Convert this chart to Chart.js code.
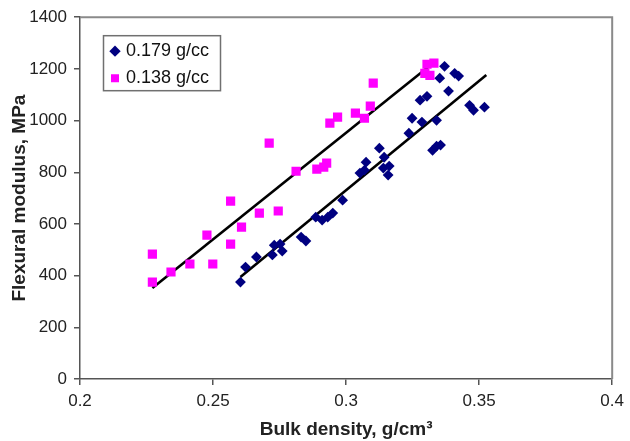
<!DOCTYPE html>
<html><head><meta charset="utf-8">
<script src="https://cdn.jsdelivr.net/npm/chart.js@4.4.1/dist/chart.umd.min.js"></script>
<style>html,body{margin:0;padding:0;background:#fff}#wrap{width:630px;height:441px}</style>
</head><body><div id="wrap"><canvas id="c" width="630" height="441"></canvas></div>
<script>
const xTicks = [0.2, 0.25, 0.3, 0.35, 0.4];
const yTicks = [0, 200, 400, 600, 800, 1000, 1200, 1400];
const seriesLabels = ['0.179 g/cc', '0.138 g/cc'];
const xTitle = 'Bulk density, g/cm\u00B3';
const yTitle = 'Flexural modulus, MPa';

const blueX = [0.2603,0.2622,0.2663,0.2723,0.2730,0.2752,0.2760,0.2831,0.2849,0.2886,0.2910,0.2931,0.2950,0.2987,0.3052,0.3069,0.3075,0.3125,0.3143,0.3140,0.3162,0.3158,0.3236,0.3248,0.3278,0.3285,0.3304,0.3340,0.3325,0.3340,0.3355,0.3352,0.3370,0.3385,0.3408,0.3423,0.3464,0.3479,0.3520];
const blueY = [375,433,472,480,518,522,495,549,534,626,615,626,642,692,797,808,839,893,858,816,824,789,951,1009,1079,994,1094,1001,885,901,905,1164,1210,1114,1183,1172,1059,1040,1052];

const pinkX = [0.2272,0.2272,0.2342,0.2413,0.2477,0.2499,0.2566,0.2566,0.2607,0.2674,0.2711,0.2745,0.2812,0.2890,0.2916,0.2927,0.2939,0.2968,0.3035,0.3069,0.3091,0.3102,0.3296,0.3304,0.3315,0.3330];
const pinkY = [483,375,414,445,557,445,522,688,588,642,913,650,804,812,820,835,990,1013,1029,1009,1056,1145,1183,1218,1175,1222];

const blueFitX = [0.2603, 0.3527];
const blueFitY = [395, 1176];
const pinkFitX = [0.2272, 0.3333];
const pinkFitY = [352, 1228];

const pts = (xs, ys) => xs.map((x, i) => ({x: x, y: ys[i]}));
const FONT = "'Liberation Sans', Arial, sans-serif";

const framePlugin = {
  id: 'frame',
  afterLayout(chart) {
    const lg = chart.legend, ca = chart.chartArea;
    if (!lg) return;
    const l = ca.left + 24, t = ca.top + 16;
    lg.left = l; lg.top = t; lg.width = 150; lg.height = 80;
    lg.right = l + 150; lg.bottom = t + 80;
  },
  beforeDatasetsDraw(chart) {
    const ctx = chart.ctx, ca = chart.chartArea;
    ctx.save();
    ctx.strokeStyle = '#8a8a8a';
    ctx.lineWidth = 2;
    ctx.beginPath();
    ctx.moveTo(ca.left, ca.top);
    ctx.lineTo(ca.right, ca.top);
    ctx.lineTo(ca.right, ca.bottom);
    ctx.stroke();
    ctx.restore();
  },
  afterDraw(chart) {
    const ctx = chart.ctx, ca = chart.chartArea;
    ctx.save();
    ctx.strokeStyle = '#707070';
    ctx.lineWidth = 1.5;
    ctx.strokeRect(ca.left + 23.5, ca.top + 18.5, 117, 55);
    ctx.restore();
  }
};

new Chart(document.getElementById('c'), {
  type: 'scatter',
  data: {
    datasets: [
      {label: seriesLabels[0], data: pts(blueX, blueY), pointStyle: 'rectRot', pointRadius: 5.4,
       backgroundColor: '#000080', borderColor: '#000080', borderWidth: 0, pointHoverRadius: 5.4},
      {label: seriesLabels[1], data: pts(pinkX, pinkY), pointStyle: 'rect', pointRadius: 6.5,
       backgroundColor: '#ff00ff', borderColor: '#ff00ff', borderWidth: 0, pointHoverRadius: 6.5},
      {label: 'fit1', data: pts(blueFitX, blueFitY), showLine: true, pointRadius: 0,
       borderColor: '#000000', borderWidth: 2.6, backgroundColor: '#000'},
      {label: 'fit2', data: pts(pinkFitX, pinkFitY), showLine: true, pointRadius: 0,
       borderColor: '#000000', borderWidth: 2.6, backgroundColor: '#000'}
    ]
  },
  options: {
    responsive: false,
    animation: false,
    devicePixelRatio: 1,
    layout: {padding: {left: 0, top: 17, right: 13, bottom: 0}},
    plugins: {
      tooltip: {enabled: false},
      legend: {
        position: 'chartArea',
        align: 'start',
        labels: {
          filter: (item) => item.datasetIndex < 2,
          usePointStyle: true,
          boxWidth: 4,
          boxHeight: 8,
          padding: 9,
          color: '#111',
          font: {family: FONT, size: 18}
        }
      }
    },
    scales: {
      x: {
        type: 'linear', position: 'bottom', min: 0.2, max: 0.4,
        afterBuildTicks: (s) => { s.ticks = xTicks.map(v => ({value: v})); },
        afterFit: (s) => { s.height = 62; },
        ticks: {callback: (v) => String(v), autoSkip: false, maxRotation: 0, padding: 6,
                color: '#222', font: {family: FONT, size: 17}},
        grid: {drawOnChartArea: false, drawTicks: true, tickLength: 6, color: '#555', lineWidth: 1.5},
        border: {display: true, color: '#555', width: 1.5},
        title: {display: true, text: xTitle, color: '#222', padding: {top: 0, bottom: 0},
                font: {family: FONT, size: 19, weight: 'bold'}}
      },
      y: {
        type: 'linear', position: 'left', min: 0, max: 1400,
        afterBuildTicks: (s) => { s.ticks = yTicks.map(v => ({value: v})); },
        afterFit: (s) => { s.width = 80; },
        ticks: {callback: (v) => String(v), autoSkip: false, padding: 7, color: '#222',
                font: {family: FONT, size: 17}},
        grid: {drawOnChartArea: false, drawTicks: true, tickLength: 6, color: '#555', lineWidth: 1.5},
        border: {display: true, color: '#555', width: 1.5},
        title: {display: true, text: yTitle, color: '#222', padding: {top: 8, bottom: 0},
                font: {family: FONT, size: 19, weight: 'bold'}}
      }
    }
  },
  plugins: [framePlugin]
});
</script>
</body></html>
